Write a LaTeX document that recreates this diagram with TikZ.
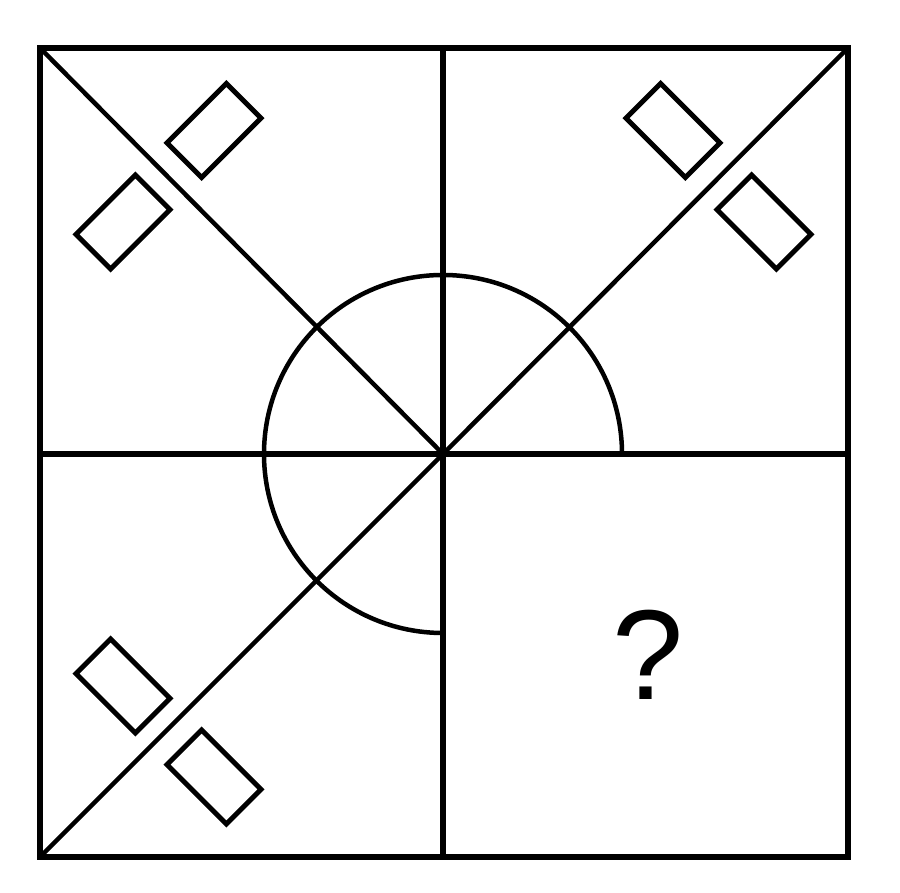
\documentclass[tikz,border=0pt]{standalone}
\usepackage{fontspec}
\newfontfamily\qfont{Liberation Sans}
\begin{document}
\begin{tikzpicture}[x=1pt,y=1pt,
  frame/.style={line width=6pt,line join=miter},
  cross/.style={line width=6pt},
  diag/.style={line width=4.5pt},
  ring/.style={line width=4.5pt},
  tag/.style={draw,line width=5pt,rectangle,minimum width=84pt,minimum height=49pt,inner sep=0pt}]
\useasboundingbox (0,0) rectangle (900,893);
\fill[white] (0,0) rectangle (900,893);
% corners and centre
\coordinate (tl) at (40,845);
\coordinate (tr) at (848,845);
\coordinate (br) at (848,36);
\coordinate (bl) at (40,36);
\coordinate (O) at (443,439);
\coordinate (top) at (443,845);
\coordinate (bot) at (443,36);
\coordinate (lft) at (40,439);
\coordinate (rgt) at (848,439);
% frame and cross
\draw[frame] (tl) -- (tr) -- (br) -- (bl) -- cycle;
\draw[cross] (top) -- (bot);
\draw[cross] (lft) -- (rgt);
% diagonals
\draw[diag] (tl) -- (O);
\draw[diag] (tr) -- (O);
\draw[diag] (bl) -- (O);
% three-quarter circle
\draw[ring] ([shift={(0:179)}]O) arc[start angle=0,end angle=270,radius=179];
% small rectangles
\node[tag,rotate=45] (a) at (214,762.5) {};
\node[tag,rotate=45] (b) at (123,671) {};
\node[tag,rotate=-45] (c) at (673,762.5) {};
\node[tag,rotate=-45] (d) at (764,671) {};
\node[tag,rotate=-45] (e) at (123,207) {};
\node[tag,rotate=-45] (f) at (214,116) {};
% question mark
\node[inner sep=0pt] (q) at (648,238) {\qfont\fontsize{128}{128}\selectfont ?};
\end{tikzpicture}
\end{document}
